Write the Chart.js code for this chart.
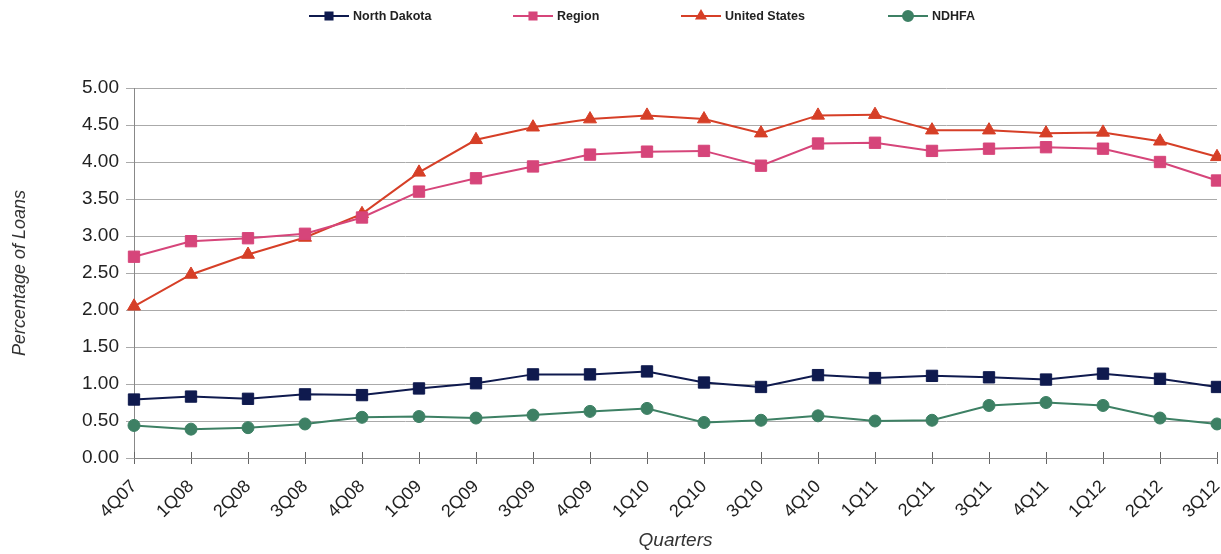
<!DOCTYPE html>
<html>
<head>
<meta charset="utf-8">
<script src="https://cdn.jsdelivr.net/npm/chart.js@4"></script>
<style>
  html, body { margin: 0; padding: 0; background: #fff; }
  #wrap { width: 1221px; height: 554px; }
</style>
</head>
<body>
<div id="wrap"><canvas id="chart" width="1221" height="554"></canvas></div>
<script>
const quarters = ['4Q07','1Q08','2Q08','3Q08','4Q08','1Q09','2Q09','3Q09','4Q09','1Q10',
  '2Q10','3Q10','4Q10','1Q11','2Q11','3Q11','4Q11','1Q12','2Q12','3Q12'];

const northDakota = [0.79, 0.83, 0.80, 0.86, 0.85, 0.94, 1.01, 1.13, 1.13, 1.17,
  1.02, 0.96, 1.12, 1.08, 1.11, 1.09, 1.06, 1.14, 1.07, 0.96];
const region = [2.72, 2.93, 2.97, 3.03, 3.25, 3.60, 3.78, 3.94, 4.10, 4.14,
  4.15, 3.95, 4.25, 4.26, 4.15, 4.18, 4.20, 4.18, 4.00, 3.75];
const unitedStates = [2.05, 2.48, 2.75, 2.98, 3.30, 3.86, 4.30, 4.47, 4.58, 4.63,
  4.58, 4.39, 4.63, 4.64, 4.43, 4.43, 4.39, 4.40, 4.28, 4.07];
const ndhfa = [0.44, 0.39, 0.41, 0.46, 0.55, 0.56, 0.54, 0.58, 0.63, 0.67,
  0.48, 0.51, 0.57, 0.50, 0.51, 0.71, 0.75, 0.71, 0.54, 0.46];

const yTicks = [0, 0.5, 1, 1.5, 2, 2.5, 3, 3.5, 4, 4.5, 5];

const FONT = '"Liberation Sans", Arial, sans-serif';

function series(label, data, color, style, r) {
  return {
    label, data,
    borderColor: color, backgroundColor: color,
    borderWidth: 2, pointStyle: style, pointRadius: r, pointHoverRadius: r,
    pointBorderWidth: 1, tension: 0, clip: false
  };
}

// legend drawn by hand: line with marker in the middle, bold small text
const legendPos = [309, 513, 681, 888];
const legendPlugin = {
  id: 'topLegend',
  afterDraw(chart) {
    const ctx = chart.ctx;
    ctx.save();
    ctx.font = 'bold 12.5px ' + FONT;
    ctx.textBaseline = 'middle';
    chart.data.datasets.forEach((ds, i) => {
      const x = legendPos[i], y = 16;
      ctx.strokeStyle = ds.borderColor;
      ctx.fillStyle = ds.borderColor;
      ctx.lineWidth = 2;
      ctx.beginPath();
      ctx.moveTo(x, y); ctx.lineTo(x + 40, y);
      ctx.stroke();
      Chart.helpers.drawPoint(ctx, { pointStyle: ds.pointStyle, radius: 5, rotation: 0, borderWidth: 1 }, x + 20, y);
      ctx.fillStyle = '#222';
      ctx.fillText(ds.label, x + 44, y + 1);
    });
    ctx.restore();
  }
};

// the rotated labels make chart.js keep a wide right margin; the original
// plot runs almost to the edge, so stretch the x scale after layout
const stretchRight = {
  id: 'stretchRight',
  afterLayout(chart) {
    const ca = chart.chartArea, x = chart.scales.x;
    const r = chart.width - 4;
    ca.right = r; ca.width = r - ca.left;
    x.right = r; x.width = r - x.left;
    x.configure();
    x._labelItemsCache = null;
  }
};

// x tick marks cross the axis in the original: add the short upper half
const crossTicks = {
  id: 'crossTicks',
  afterDraw(chart) {
    const x = chart.scales.x, ctx = chart.ctx;
    ctx.save();
    ctx.strokeStyle = '#666';
    ctx.lineWidth = 1;
    ctx.beginPath();
    quarters.forEach((q, i) => {
      const px = Math.round(x.getPixelForTick(i)) + 0.5;
      ctx.moveTo(px, x.top - 6); ctx.lineTo(px, x.top);
    });
    ctx.stroke();
    ctx.restore();
  }
};

new Chart(document.getElementById('chart'), {
  type: 'line',
  data: {
    labels: quarters,
    datasets: [
      series('North Dakota', northDakota, '#0f1a4e', 'rect', 8),
      series('Region', region, '#d6457a', 'rect', 8),
      series('United States', unitedStates, '#d63f27', 'triangle', 7.5),
      series('NDHFA', ndhfa, '#3d8064', 'circle', 6)
    ]
  },
  options: {
    responsive: false,
    animation: false,
    events: [],
    layout: { padding: { top: 88, right: 4, left: 0, bottom: 0 } },
    plugins: { legend: { display: false }, tooltip: { enabled: false } },
    scales: {
      x: {
        offset: false,
        afterFit: s => { s.height = 96; },
        grid: { drawOnChartArea: false, drawTicks: true, tickLength: 6, color: '#666' },
        border: { color: '#888', width: 1 },
        ticks: {
          minRotation: 45, maxRotation: 45, padding: 12,
          color: '#222', font: { family: FONT, size: 18 }
        },
        title: {
          display: true, text: 'Quarters', color: '#333', padding: { top: 0, bottom: 2 },
          font: { family: FONT, size: 19, style: 'italic' }
        }
      },
      y: {
        min: 0, max: 5,
        afterFit: s => { s.width = 134; },
        afterBuildTicks: s => { s.ticks = yTicks.map(v => ({ value: v })); },
        grid: { color: '#aaa', lineWidth: 1, drawTicks: true, tickLength: 8 },
        border: { color: '#888', width: 1 },
        ticks: {
          padding: 7, color: '#222',
          callback: v => v.toFixed(2),
          font: { family: FONT, size: 19 }
        },
        title: {
          display: true, text: 'Percentage of Loans', color: '#333', padding: { top: 9, bottom: 0 },
          font: { family: FONT, size: 18, style: 'italic' }
        }
      }
    }
  },
  plugins: [legendPlugin, stretchRight, crossTicks]
});
</script>
</body>
</html>
